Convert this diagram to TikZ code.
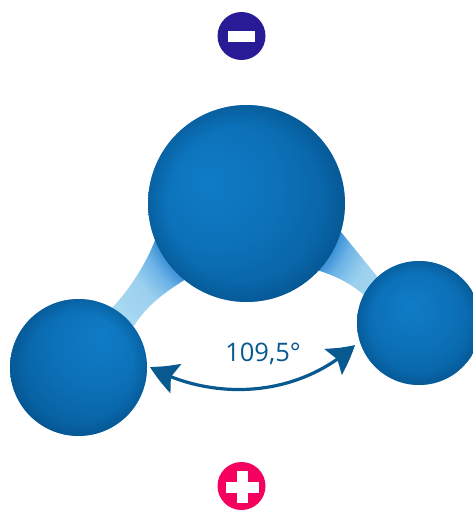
\documentclass[tikz,border=0pt]{standalone}
\usepackage{fontspec}
\setmainfont{Open Sans}
\usetikzlibrary{arrows.meta,bending,fadings}
\definecolor{arrowblue}{HTML}{08598F}
\definecolor{minusblue}{HTML}{291A96}
\definecolor{plusred}{HTML}{F5005F}
\definecolor{atomA}{RGB}{15,124,198}
\definecolor{atomB}{RGB}{12,113,184}
\definecolor{atomC}{RGB}{8,96,160}
\definecolor{atomE}{RGB}{4,78,135}
\definecolor{bondA}{RGB}{60,145,215}
\definecolor{bondB}{RGB}{110,180,230}
\definecolor{bondC}{RGB}{155,208,238}
\definecolor{bondD}{RGB}{172,218,242}
\newcommand{\atomstops}{color(0bp)=(atomA);color(16bp)=(atomB);color(30bp)=(atomC);color(40bp)=(atomE);color(60bp)=(atomE)}
\pgfdeclareradialshading{atomshadeBig}{\pgfpoint{-10bp}{6bp}}{\atomstops}
\pgfdeclareradialshading{atomshadeLeft}{\pgfpoint{9bp}{12bp}}{\atomstops}
\pgfdeclareradialshading{atomshadeRight}{\pgfpoint{-3bp}{7bp}}{\atomstops}
\pgfdeclareradialshading{rimshade}{\pgfpoint{0bp}{0bp}}{
 color(0bp)=(pgftransparent!100);
 color(20bp)=(pgftransparent!100);
 color(25bp)=(pgftransparent!60);
 color(50bp)=(pgftransparent!60)}
\pgfdeclarefading{rimfade}{\pgfuseshading{rimshade}}
\pgfdeclareradialshading{bondshade}{\pgfpoint{0bp}{0bp}}{
 color(0bp)=(bondA);
 color(14bp)=(bondA);
 color(16bp)=(bondB);
 color(19bp)=(bondC);
 color(25bp)=(bondD);
 color(50bp)=(bondD)}
\tikzset{
 atom/.style={circle,inner sep=0pt,minimum size=#1},
 rim/.style={fill=atomE,path fading=rimfade},
 charge/.style={circle,inner sep=0pt,minimum size=48pt},
 glyph/.style={fill=white,inner sep=0pt},
 dblarrow/.style={draw=arrowblue,line width=3.2pt,
   {Stealth[length=28pt,width=31pt,inset=5pt,bend]}-{Stealth[length=28pt,width=31pt,inset=5pt,bend]}},
 lbl/.style={text=arrowblue,font=\fontsize{25.5}{28}\selectfont,inner sep=0pt}
}
\begin{document}
\begin{tikzpicture}[x=1pt,y=-1pt]
\useasboundingbox (0,0) rectangle (473,512);
\clip (0,0) rectangle (473,512);
% bonds
\begin{scope}
\clip (155,240) .. controls (147,262) and (130,289) .. (112,308)
  -- (134,326) .. controls (146,306) and (165,292) .. (186,279) -- cycle;
\shade[shading=bondshade] (246.5,203.5) circle[radius=175];
\end{scope}
\begin{scope}
\clip (341,232) -- (380,280) -- (365,296)
  .. controls (352,284) and (336,276) .. (317,270) -- cycle;
\shade[shading=bondshade] (246.5,203.5) circle[radius=175];
\end{scope}
% atoms
\node[atom=197pt,shading=atomshadeBig] (big) at (246.5,203.5) {};
\node[atom=137pt,shading=atomshadeLeft] (left) at (78.5,367.5) {};
\node[atom=124pt,shading=atomshadeRight] (right) at (419,323) {};
\fill[rim] (big.center) circle[radius=98.5];
\fill[rim] (left.center) circle[radius=68.5];
\fill[rim] (right.center) circle[radius=62];
% charges
\node[charge,fill=minusblue] (minus) at (241.5,36) {};
\node[glyph,minimum width=27pt,minimum height=11pt] (minusbar) at (241.5,36.5) {};
\node[charge,fill=plusred] (plus) at (241.5,486) {};
\node[glyph,minimum width=33pt,minimum height=11pt] (plush) at (242.5,487) {};
\node[glyph,minimum width=11pt,minimum height=32pt] (plusv) at (242.3,487) {};
% angle
\coordinate (aL) at (150,367);
\coordinate (aR) at (355,345);
\draw[dblarrow] (aL) .. controls (210,400) and (295,400) .. (aR);
\node[lbl] (angle) at (263,354) {109,5°};
\end{tikzpicture}
\end{document}
